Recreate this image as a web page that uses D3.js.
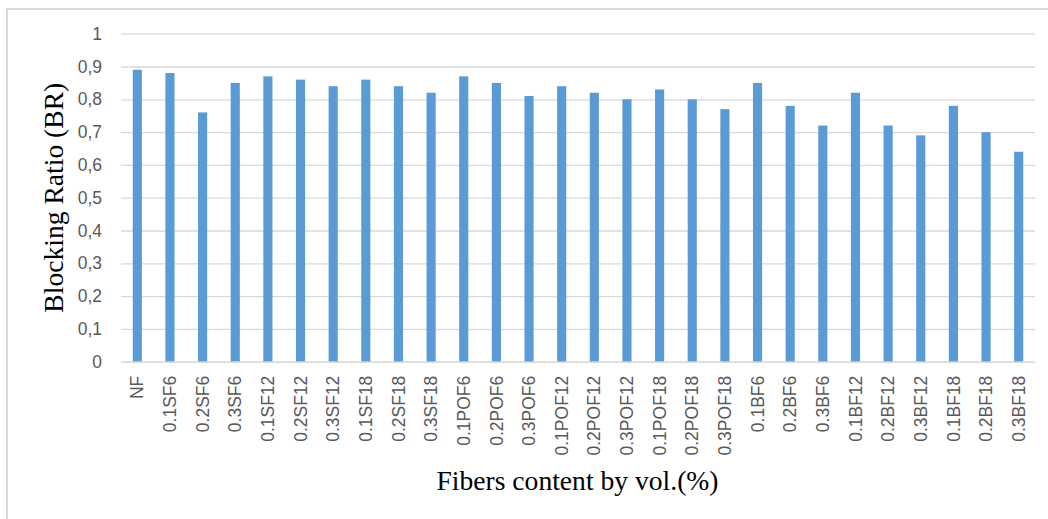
<!DOCTYPE html>
<html>
<head>
<meta charset="utf-8">
<script src="https://cdn.jsdelivr.net/npm/d3@7"></script>
<style>
  html, body { margin: 0; padding: 0; background: #fff; }
  svg { display: block; }
</style>
</head>
<body>
<svg id="chart" width="1048" height="519"></svg>
<script>
const categories = ["NF","0.1SF6","0.2SF6","0.3SF6","0.1SF12","0.2SF12","0.3SF12","0.1SF18","0.2SF18","0.3SF18",
  "0.1POF6","0.2POF6","0.3POF6","0.1POF12","0.2POF12","0.3POF12","0.1POF18","0.2POF18","0.3POF18",
  "0.1BF6","0.2BF6","0.3BF6","0.1BF12","0.2BF12","0.3BF12","0.1BF18","0.2BF18","0.3BF18"];
const values = [0.89,0.88,0.76,0.85,0.87,0.86,0.84,0.86,0.84,0.82,
  0.87,0.85,0.81,0.84,0.82,0.80,0.83,0.80,0.77,
  0.85,0.78,0.72,0.82,0.72,0.69,0.78,0.70,0.64];
const yTicks = [0,0.1,0.2,0.3,0.4,0.5,0.6,0.7,0.8,0.9,1];
const yTickLabels = ["0","0,1","0,2","0,3","0,4","0,5","0,6","0,7","0,8","0,9","1"];
const yTitle = "Blocking Ratio (BR)";
const xTitle = "Fibers content by vol.(%)";

const svg = d3.select("#chart");
const W = 1048, H = 519;
const plot = {left: 121, right: 1035, top: 33.7, bottom: 361.7};

// chart border
svg.append("rect").attr("x", 7).attr("y", 9).attr("width", W + 10).attr("height", H + 10)
  .attr("fill", "none").attr("stroke", "#d9d9d9").attr("stroke-width", 2);

const x = d3.scaleBand().domain(categories).range([plot.left, plot.right])
  .paddingInner(0.72).paddingOuter(0.36);
const y = d3.scaleLinear().domain([0, 1]).range([plot.bottom, plot.top]);

// gridlines
const yAxis = d3.axisLeft(y).tickValues(yTicks)
  .tickFormat((d, i) => yTickLabels[i]).tickSize(-(plot.right - plot.left)).tickPadding(19);
const gy = svg.append("g").attr("transform", `translate(${plot.left},0)`).call(yAxis);
gy.select(".domain").remove();
gy.selectAll(".tick line").attr("stroke", "#d9d9d9").attr("stroke-width", 1.3);
gy.selectAll(".tick text").attr("fill", "#595959")
  .style("font-family", "'Liberation Sans', Arial, sans-serif").style("font-size", "17.5px");

// bars
svg.append("g").selectAll("rect").data(values).join("rect")
  .attr("x", (d, i) => x(categories[i]))
  .attr("y", d => y(d))
  .attr("width", x.bandwidth())
  .attr("height", d => y(0) - y(d))
  .attr("fill", "#5b9bd5");

// x axis
const xAxis = d3.axisBottom(x).tickSize(0).tickPadding(0);
const gx = svg.append("g").attr("transform", `translate(0,${plot.bottom})`).call(xAxis);
gx.select(".domain").attr("stroke", "#d9d9d9").attr("stroke-width", 1.3);
gx.selectAll(".tick text")
  .attr("fill", "#595959")
  .style("font-family", "'Liberation Sans', Arial, sans-serif").style("font-size", "17.5px")
  .attr("text-anchor", "end")
  .attr("dy", "0.35em")
  .attr("transform", "translate(0,14) rotate(-90)")
  .attr("x", 0).attr("y", 0);

// titles
svg.append("text").attr("x", 577.5).attr("y", 490).attr("text-anchor", "middle")
  .style("font-family", "'Liberation Serif', 'Times New Roman', serif").style("font-size", "27.6px")
  .attr("fill", "#000").text(xTitle);
svg.append("text").attr("transform", `translate(63,${(plot.top + plot.bottom) / 2}) rotate(-90)`)
  .attr("text-anchor", "middle")
  .style("font-family", "'Liberation Serif', 'Times New Roman', serif").style("font-size", "27.6px")
  .attr("fill", "#000").text(yTitle);
</script>
</body>
</html>
